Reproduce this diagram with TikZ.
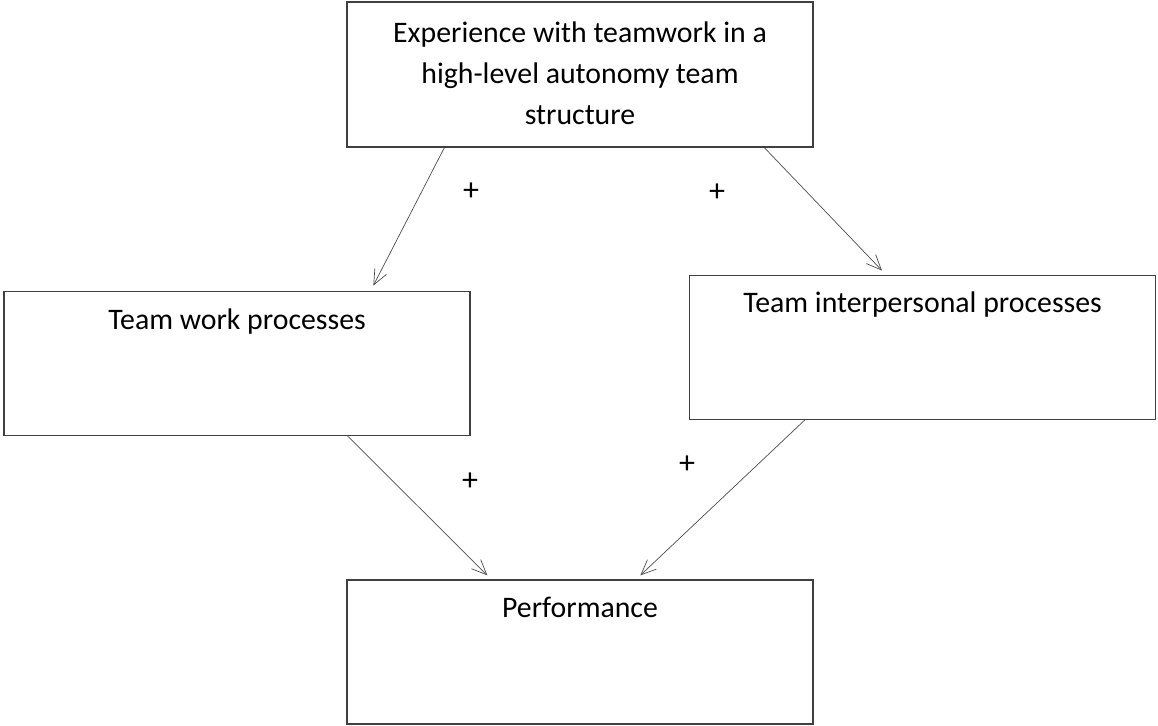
\documentclass[tikz,border=0pt]{standalone}
\usepackage{fontspec}
\setmainfont{Carlito}
\usetikzlibrary{arrows.meta,calc}
\begin{document}
\begin{tikzpicture}[x=1pt,y=-1pt,
  box/.style={draw=black!75,line width=1.3pt,rectangle,inner sep=0pt,minimum width=466pt},
  lbl/.style={anchor=base,inner sep=0pt,font=\fontsize{29.8}{40.6}\selectfont,align=center},
  plus/.style={inner sep=0pt,font=\fontsize{32}{36}\selectfont},
  link/.style={draw=black!70,line width=0.7pt,-{Straight Barb[length=15pt,width=13pt,line width=0.7pt]}}]
  \useasboundingbox (0,0) rectangle (1158,725);

  % boxes
  \node[box,minimum height=145pt] (exp) at (580,74.5) {};
  \node[box,minimum height=144pt] (work) at (237,363.2) {};
  \node[box,minimum height=144pt] (inter) at (922.6,347.2) {};
  \node[box,minimum height=144pt] (perf) at (580,652) {};

  % box texts
  \node[lbl,anchor=north] (expt) at (580,22) {Experience with teamwork in a\\high-level autonomy team\\structure};
  \node[lbl] (workt) at (237,329) {Team work processes};
  \node[lbl] (intert) at (922.6,312.7) {Team interpersonal processes};
  \node[lbl] (perft) at (580,617.3) {Performance};

  % connectors
  \draw[link] ($(exp.south west)+(98,0)$) -- ($(work.north west)+(370,-5)$);
  \draw[link] ($(exp.south west)+(418,0)$) -- ($(inter.north west)+(193,-4)$);
  \draw[link] ($(work.south west)+(344,0)$) -- ($(perf.north west)+(141,-4)$);
  \draw[link] ($(inter.south west)+(116,0)$) -- ($(perf.north west)+(294,-4)$);

  % signs
  \node[plus] (p1) at (471,192) {+};
  \node[plus] (p2) at (717,193) {+};
  \node[plus] (p3) at (470,482) {+};
  \node[plus] (p4) at (687,465) {+};
\end{tikzpicture}
\end{document}
